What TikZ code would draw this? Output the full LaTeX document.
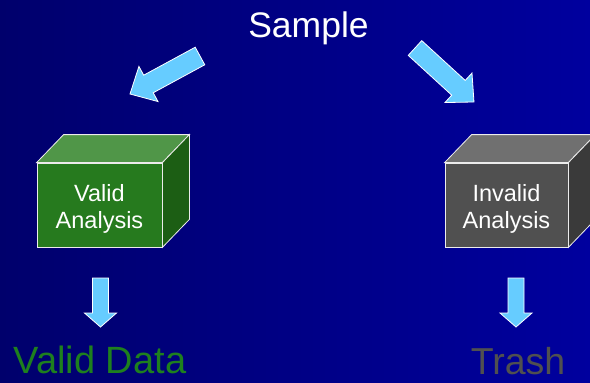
\documentclass[tikz,border=0pt]{standalone}
\usepackage{fontspec}
\setmainfont{Liberation Sans}
\usetikzlibrary{calc}

\definecolor{bgleft}{RGB}{0,0,108}
\definecolor{bgright}{RGB}{0,0,158}
\definecolor{arrowblue}{RGB}{102,204,255}
\definecolor{vfrontc}{RGB}{38,122,30}
\definecolor{vtopc}{RGB}{80,150,72}
\definecolor{vsidec}{RGB}{28,94,20}
\definecolor{ifrontc}{RGB}{80,80,80}
\definecolor{itopc}{RGB}{112,112,112}
\definecolor{isidec}{RGB}{58,58,58}
\definecolor{validgreen}{RGB}{30,128,30}
\definecolor{trashgray}{RGB}{80,80,80}

\tikzset{
  barrow/.style={fill=arrowblue, draw=white, line width=0.8pt, line join=miter},
  edge/.style={draw=white!85!gray, line width=0.8pt},
  boxface/.style={edge, minimum width=125pt, minimum height=84pt, inner sep=0pt},
  boxtext/.style={align=center, text=white, inner sep=0pt,
    font=\fontsize{23.5}{27}\selectfont},
  bigtext/.style={anchor=base, inner sep=0pt, font=\fontsize{36}{40}\selectfont}
}

% block arrow from #1 to #2: half shaft width #3, half head width #4, head length #5 (pt)
\newcommand\blockarrow[5]{%
  \path let \p1=($(#2)-(#1)$) in \pgfextra{%
    \pgfmathsetmacro\tmplen{veclen(\x1,\y1)}%
    \pgfmathsetmacro\tmpang{atan2(\y1,\x1)}%
    \global\let\barlen\tmplen\global\let\barang\tmpang};
  \draw[barrow, shift={(#1)}, rotate=\barang]
    (0pt,-#3pt) -- ({\barlen pt-#5pt},-#3pt) -- ({\barlen pt-#5pt},-#4pt)
    -- ({\barlen pt},0pt) -- ({\barlen pt-#5pt},#4pt) -- ({\barlen pt-#5pt},#3pt)
    -- (0pt,#3pt) -- cycle;
}

% draws the top and right faces of a box whose front face is node #1
\newcommand\boxfaces[3]{%
  \draw[edge, fill=#2] (#1.north west) -- ($(#1.north west)+(27,-28)$)
    -- ($(#1.north east)+(27,-28)$) -- (#1.north east) -- cycle;
  \draw[edge, fill=#3] (#1.north east) -- ($(#1.north east)+(27,-28)$)
    -- ($(#1.south east)+(27,-28)$) -- (#1.south east) -- cycle;
}

\begin{document}
\begin{tikzpicture}[x=1pt, y=-1pt]
  \useasboundingbox (0,0) rectangle (590,383);
  \clip (0,0) rectangle (590,383);
  \fill[left color=bgleft, right color=bgright] (0,0) rectangle (590,383);

  % title
  \node[bigtext, text=white, font=\fontsize{35.5}{40}\selectfont] (sample) at (308.5,37) {Sample};

  % analysis boxes
  \node[boxface, fill=vfrontc] (valid) at (99.5,205) {};
  \boxfaces{valid}{vtopc}{vsidec}
  \node[boxtext] (validlbl) at (99.5,209) {Valid\\Analysis};
  \node[boxface, fill=ifrontc, minimum width=123pt] (invalid) at (506.5,205) {};
  \boxfaces{invalid}{itopc}{isidec}
  \node[boxtext] (invalidlbl) at (506.5,209) {Invalid\\Analysis};

  % results
  \node[bigtext, text=validgreen, font=\fontsize{38}{40}\selectfont] (vdata) at (100,373) {Valid Data};
  \node[bigtext, text=trashgray, font=\fontsize{37.5}{40}\selectfont] (trash) at (518,374) {Trash};

  % arrow end points
  \coordinate (la1) at (200,56);  \coordinate (la2) at (130,94);
  \coordinate (ra1) at (415,48);  \coordinate (ra2) at (474,102);
  \coordinate (vd1) at (100.5,278); \coordinate (vd2) at (100.5,327);
  \coordinate (td1) at (516,278);   \coordinate (td2) at (516,327);

  \blockarrow{la1}{la2}{10}{20}{21}
  \blockarrow{ra1}{ra2}{10}{20}{21}
  \blockarrow{vd1}{vd2}{8}{16}{14}
  \blockarrow{td1}{td2}{8}{16}{14}
\end{tikzpicture}
\end{document}
